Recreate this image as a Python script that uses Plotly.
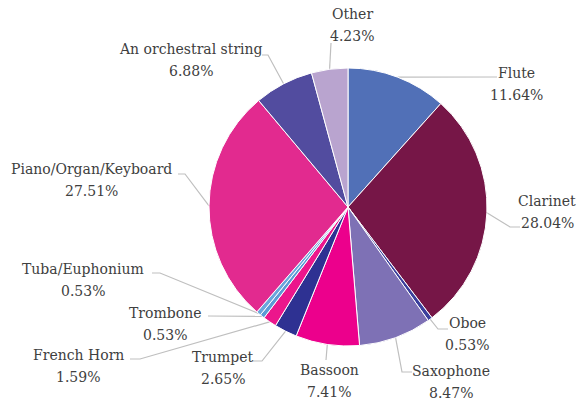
import math
import plotly.graph_objects as go

# ---- data ----
instruments = ["Flute", "Clarinet", "Oboe", "Saxophone", "Bassoon", "Trumpet",
               "French Horn", "Trombone", "Tuba/Euphonium", "Piano/Organ/Keyboard",
               "An orchestral string", "Other"]
percentages = [11.64, 28.04, 0.53, 8.47, 7.41, 2.65, 1.59, 0.53, 0.53, 27.51, 6.88, 4.23]

# ---- styles ----
colors = ["#5170b7", "#761647", "#3b3f9c", "#7e71b5", "#ec008c", "#2e3192",
          "#ec168c", "#5b9bd5", "#6aa6dc", "#e22a8f", "#524c9f", "#b9a4cf"]

W, H = 578, 402
CX, CY, R = 348, 207, 139
LINE_GAP = 22

# label block centres (x, y) in pixels
label_pos = {
    "Flute": (516, 84),
    "Clarinet": (547, 212),
    "Oboe": (467, 334),
    "Saxophone": (451, 382),
    "Bassoon": (329, 381),
    "Trumpet": (223, 368),
    "French Horn": (78, 366),
    "Trombone": (165, 324),
    "Tuba/Euphonium": (83, 280),
    "Piano/Organ/Keyboard": (91, 180),
    "An orchestral string": (191, 60),
    "Other": (352, 25),
}
# leader path points (from label side toward slice)
leader_pts = {
    "Flute": [(497, 77)],
    "Clarinet": [(520, 227), (510, 227)],
    "Oboe": [(448, 329), (438, 329)],
    "Saxophone": [(412, 372), (402, 372)],
    "Bassoon": [(326, 360)],
    "Trumpet": [(253, 361), (262, 361)],
    "French Horn": [(130, 359), (140, 359)],
    "Trombone": [(208, 316)],
    "Tuba/Euphonium": [(152, 273), (160, 273)],
    "Piano/Organ/Keyboard": [(178, 174), (185, 174)],
    "An orchestral string": [(262, 55), (268, 55)],
    "Other": [(331, 43)],
}

FONT = "DejaVu Serif"

fig = go.Figure()

fig.add_trace(go.Pie(
    labels=instruments, values=percentages, sort=False, direction="clockwise",
    rotation=0, textinfo="none", hoverinfo="skip",
    marker=dict(colors=colors, line=dict(color="white", width=1)),
    domain=dict(x=[(CX - R) / W, (CX + R) / W], y=[1 - (CY + R) / H, 1 - (CY - R) / H]),
    showlegend=False,
))

# leader lines
total = sum(percentages)
lx, ly = [], []
cum = 0.0
for name, v in zip(instruments, percentages):
    mid = (cum + v / 2) / total * 2 * math.pi
    cum += v
    ax = CX + R * math.sin(mid)
    ay = CY - R * math.cos(mid)
    for (px, py) in leader_pts[name]:
        lx.append(px)
        ly.append(py)
    lx.append(ax)
    ly.append(ay)
    lx.append(None)
    ly.append(None)

fig.add_trace(go.Scatter(x=lx, y=ly, mode="lines", hoverinfo="skip",
                         line=dict(color="#bfbfbf", width=1.2), showlegend=False))

for name, v in zip(instruments, percentages):
    x, y = label_pos[name]
    for txt, yy in ((name, y - LINE_GAP / 2), (f"{v:.2f}%", y + LINE_GAP / 2)):
        fig.add_annotation(x=x, y=yy, xref="x", yref="y", text=txt,
                           showarrow=False, xanchor="center", yanchor="middle",
                           align="center",
                           font=dict(family=FONT, size=14, color="#404040"))

fig.update_layout(
    width=W, height=H, margin=dict(l=0, r=0, t=0, b=0),
    paper_bgcolor="white", plot_bgcolor="rgba(0,0,0,0)",
    font=dict(family=FONT),
    xaxis=dict(range=[0, W], visible=False, fixedrange=True),
    yaxis=dict(range=[H, 0], visible=False, fixedrange=True),
)

fig.write_html("out.html")
